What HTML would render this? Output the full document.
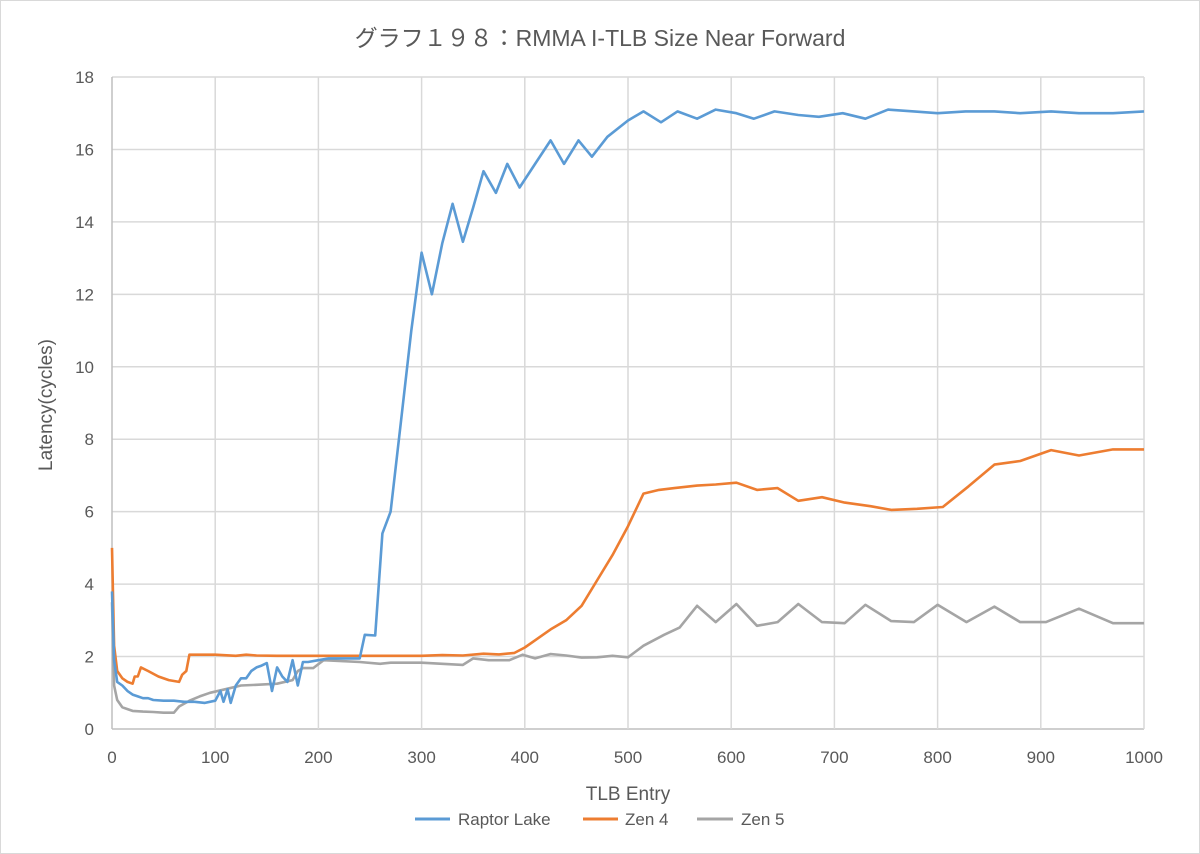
<!DOCTYPE html>
<html><head><meta charset="utf-8"><style>
body{margin:0;background:#fff;}
svg{display:block;font-family:"Liberation Sans","Noto Sans CJK JP",sans-serif;}
</style></head><body>
<svg width="1200" height="854" viewBox="0 0 1200 854">
<rect x="0.5" y="0.5" width="1199" height="853" fill="#fff" stroke="#d9d9d9"/>
<text x="600" y="46" text-anchor="middle" font-size="23" fill="#595959">グラフ１９８：RMMA I-TLB Size Near Forward</text>
<g id="grid"></g><g id="series"></g><g id="ticks"></g>
<text x="628" y="800" text-anchor="middle" font-size="19" fill="#595959">TLB Entry</text>
<text transform="translate(52,405) rotate(-90)" text-anchor="middle" font-size="19" fill="#595959">Latency(cycles)</text>
<g>
<g><line x1="415" y1="819" x2="450" y2="819" stroke="#5b9bd5" stroke-width="3"/><text x="458" y="825" font-size="17" fill="#595959">Raptor Lake</text></g>
<g><line x1="583" y1="819" x2="618" y2="819" stroke="#ed7d31" stroke-width="3"/><text x="625" y="825" font-size="17" fill="#595959">Zen 4</text></g>
<g><line x1="697" y1="819" x2="733" y2="819" stroke="#a5a5a5" stroke-width="3"/><text x="741" y="825" font-size="17" fill="#595959">Zen 5</text></g>
</g>
</svg>
<script>
const xTicks=[0,100,200,300,400,500,600,700,800,900,1000];
const yTicks=[0,2,4,6,8,10,12,14,16,18];
const rlX=[0,2,5,10,15,20,25,30,35,40,50,60,70,80,90,100,105,108,112,115,120,125,130,135,140,145,150,155,160,165,170,175,180,185,190,200,210,240,245,255,262,270,280,290,300,310,320,330,340,350,360,372,383,395,410,425,438,452,465,480,500,515,532,548,567,585,605,622,642,665,685,708,730,752,777,800,827,855,880,910,937,970,1000];
const rlY=[3.8,1.9,1.3,1.2,1.05,0.95,0.9,0.85,0.85,0.8,0.78,0.78,0.75,0.75,0.72,0.78,1.05,0.75,1.1,0.72,1.2,1.4,1.4,1.6,1.7,1.75,1.82,1.05,1.7,1.45,1.3,1.9,1.2,1.85,1.85,1.9,1.95,1.95,2.6,2.58,5.4,6.0,8.5,11,13.15,12.0,13.4,14.5,13.45,14.4,15.4,14.8,15.6,14.95,15.6,16.25,15.6,16.25,15.8,16.35,16.8,17.05,16.75,17.05,16.85,17.1,17.0,16.85,17.05,16.95,16.9,17.0,16.85,17.1,17.05,17.0,17.05,17.05,17.0,17.05,17.0,17.0,17.05];
const z4X=[0,2,5,10,15,20,22,25,28,35,45,55,65,68,72,75,100,120,130,140,160,300,320,340,360,375,390,400,410,425,440,455,470,485,500,515,530,545,567,585,605,625,645,665,688,710,735,755,780,805,830,855,880,910,937,970,1000];
const z4Y=[5.0,2.3,1.6,1.4,1.3,1.25,1.45,1.45,1.7,1.6,1.45,1.35,1.3,1.5,1.6,2.05,2.05,2.02,2.05,2.03,2.02,2.02,2.04,2.03,2.08,2.06,2.1,2.25,2.45,2.75,3.0,3.4,4.1,4.8,5.6,6.5,6.6,6.65,6.72,6.75,6.8,6.6,6.65,6.3,6.4,6.25,6.15,6.05,6.08,6.13,6.7,7.3,7.4,7.7,7.55,7.72,7.72];
const z5X=[0,2,5,10,15,20,30,40,50,60,65,75,85,95,110,125,140,160,175,180,185,195,205,220,240,260,270,300,320,340,350,365,385,398,410,425,440,455,470,485,500,515,535,550,567,585,605,625,645,665,688,710,730,755,777,800,828,855,880,905,937,970,1000];
const z5Y=[3.5,1.2,0.8,0.6,0.55,0.5,0.48,0.47,0.45,0.45,0.62,0.78,0.9,1.0,1.1,1.2,1.22,1.25,1.35,1.6,1.68,1.68,1.9,1.88,1.85,1.8,1.83,1.83,1.8,1.77,1.95,1.9,1.9,2.05,1.95,2.07,2.03,1.97,1.98,2.02,1.98,2.3,2.6,2.8,3.4,2.95,3.45,2.85,2.95,3.45,2.95,2.92,3.43,2.98,2.95,3.43,2.95,3.38,2.95,2.95,3.32,2.92,2.92];
const X0=112,X1=1144,Y0=729,Y1=77,XMAX=1000,YMAX=18;
function sx(v){return X0+(X1-X0)*v/XMAX;}
function sy(v){return Y0-(Y0-Y1)*v/YMAX;}
const NS='http://www.w3.org/2000/svg';
const grid=document.getElementById('grid'),ticks=document.getElementById('ticks'),ser=document.getElementById('series');
function mk(tag,attrs,parent){const e=document.createElementNS(NS,tag);for(const k in attrs)e.setAttribute(k,attrs[k]);parent.appendChild(e);return e;}
yTicks.forEach(v=>{
  const l=mk('line',{x1:X0,x2:X1,y1:sy(v),y2:sy(v),stroke:v===0?'#bfbfbf':'#d9d9d9','stroke-width':1.5},grid);
  
  
  const t=mk('text',{x:94,y:sy(v)+6,'text-anchor':'end','font-size':17,fill:'#595959'},ticks);
  t.textContent=v;
  
  
});
xTicks.forEach(v=>{
  const l=mk('line',{x1:sx(v),x2:sx(v),y1:Y1,y2:Y0,stroke:v===0?'#bfbfbf':'#d9d9d9','stroke-width':1.5},grid);
  
  
  const t=mk('text',{x:sx(v),y:763,'text-anchor':'middle','font-size':17,fill:'#595959'},ticks);
  t.textContent=v;
  
  
});
function line(xs,ys,color,name){
  const d=xs.map((x,i)=>(i?'L':'M')+sx(x).toFixed(1)+','+sy(ys[i]).toFixed(1)).join('');
  const p=mk('path',{d:d,fill:'none',stroke:color,'stroke-width':2.6,'stroke-linejoin':'round'},ser);
  
  
}
line(z5X,z5Y,'#a5a5a5','series-zen5');
line(z4X,z4Y,'#ed7d31','series-zen4');
line(rlX,rlY,'#5b9bd5','series-raptor-lake');
</script>
</body></html>
